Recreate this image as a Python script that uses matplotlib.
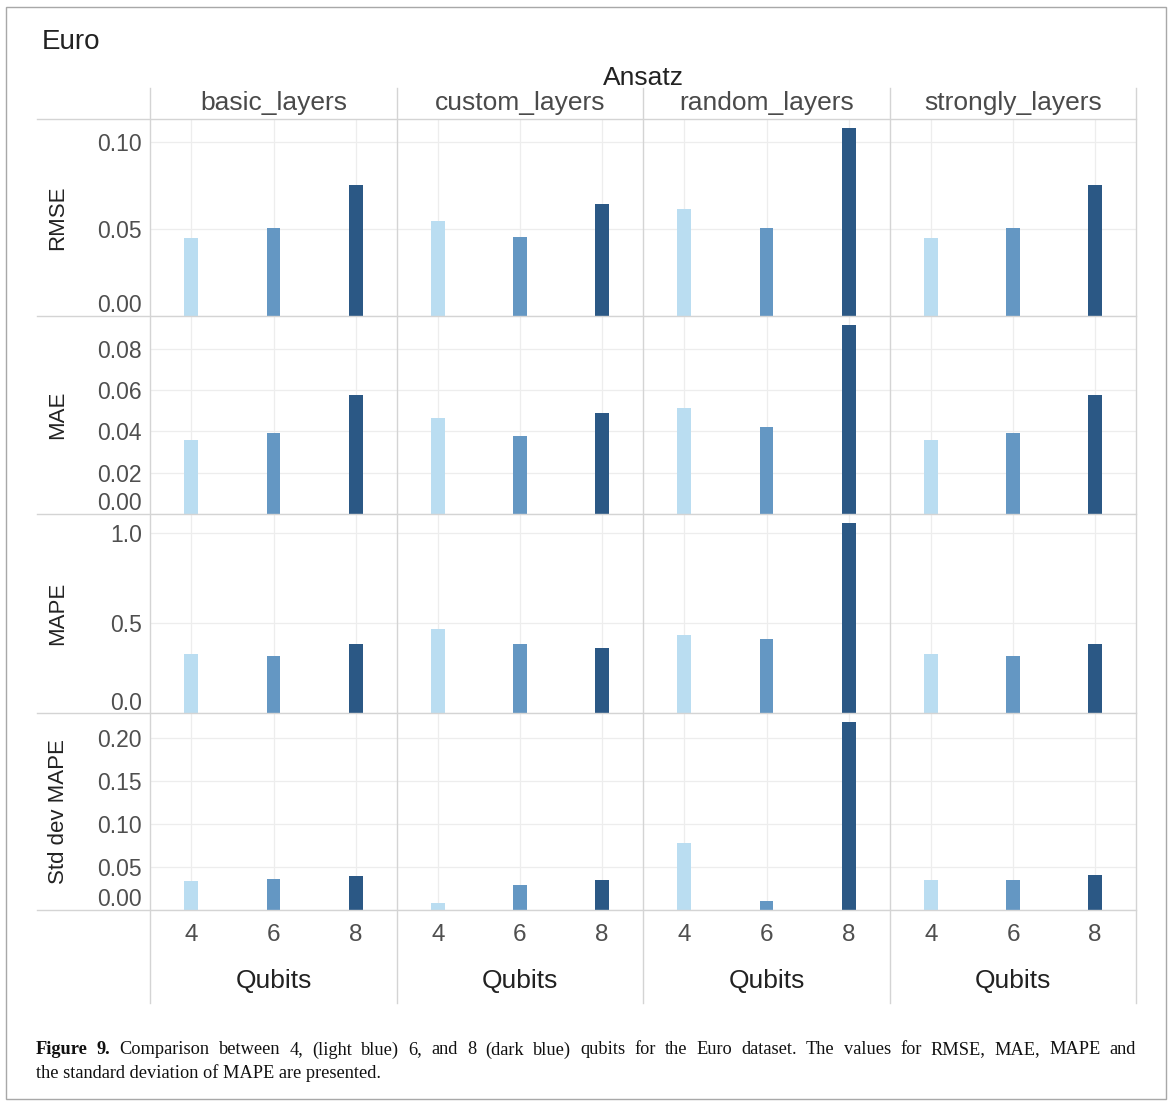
import matplotlib.pyplot as plt
from matplotlib.lines import Line2D
from matplotlib.patches import Rectangle
from matplotlib.transforms import offset_copy

plt.rcParams['font.family'] = ['Liberation Sans', 'DejaVu Sans']

# data: one list per ansatz inside each metric, bars for 4, 6, 8 qubits
qubits = [4, 6, 8]
ansatz = ['basic_layers', 'custom_layers', 'random_layers', 'strongly_layers']
metrics = ['RMSE', 'MAE', 'MAPE', 'Std dev MAPE']

rmse = [[0.0447, 0.0507, 0.0754],
        [0.0548, 0.0456, 0.0645],
        [0.0616, 0.0506, 0.1077],
        [0.0447, 0.0506, 0.0754]]
mae = [[0.0358, 0.0395, 0.0577],
       [0.0465, 0.0377, 0.0491],
       [0.0512, 0.0420, 0.0914],
       [0.0358, 0.0395, 0.0577]]
mape = [[0.329, 0.315, 0.383],
        [0.467, 0.383, 0.361],
        [0.435, 0.409, 1.052],
        [0.329, 0.315, 0.383]]
std_mape = [[0.0341, 0.0356, 0.0391],
            [0.0081, 0.0291, 0.0344],
            [0.0779, 0.0105, 0.218],
            [0.0352, 0.0352, 0.0402]]

yticks = [[0, 0.05, 0.10], [0, 0.02, 0.04, 0.06, 0.08], [0, 0.5, 1.0], [0, 0.05, 0.10, 0.15, 0.20]]
ylabels = [['0.00', '0.05', '0.10'],
           ['0.00', '0.02', '0.04', '0.06', '0.08'],
           ['0.0', '0.5', '1.0'],
           ['0.00', '0.05', '0.10', '0.15', '0.20']]

bar_colors = ['#BADDF1', '#6497C3', '#2B5885']

caption_1 = ('Comparison between 4, (light blue) 6, and 8 (dark blue) qubits for the Euro dataset. '
             'The values for RMSE, MAE, MAPE and')
caption_2 = 'the standard deviation of MAPE are presented.'

# layout in pixels
W, H = 1171, 1101
col_edges = [150, 397, 643, 890, 1136]
row_edges = [119, 316, 514, 713, 910]
line_col = '#D4D4D4'
dark = '#222222'
tick_col = '#4F4F4F'


def fx(px):
    return px / W


def fy(py):
    return 1 - py / H


fig = plt.figure(figsize=(W / 100, H / 100), dpi=100)

rows = [rmse, mae, mape, std_mape]
for r, data in enumerate(rows):
    top = max(max(v) for v in data) * 1.05
    for c in range(4):
        x0, x1 = col_edges[c], col_edges[c + 1]
        y0, y1 = row_edges[r], row_edges[r + 1]
        ax = fig.add_axes([fx(x0), fy(y1), (x1 - x0) / W, (y1 - y0) / H])
        ax.bar(qubits, data[c], width=0.34, color=bar_colors, zorder=2)
        ax.set_xlim(3, 9)
        ax.set_ylim(0, top)
        ax.set_xticks(qubits)
        ax.set_yticks(yticks[r])
        ax.grid(color='#EDEDED', lw=0.9, zorder=0)
        ax.set_axisbelow(True)
        for s in ax.spines.values():
            s.set_visible(False)
        ax.tick_params(length=0, labelsize=16.5, labelcolor=tick_col)
        ax.tick_params(axis='x', pad=10, labelsize=17.5)
        ax.tick_params(axis='y', pad=6)
        if c == 0:
            ax.set_yticklabels(ylabels[r])
            # the zero label sits a little above the axis line
            zl = ax.get_yticklabels()[0]
            zl.set_transform(offset_copy(zl.get_transform(), fig=fig, x=0, y=9, units='points'))
        else:
            ax.set_yticklabels([])
        if r == 3:
            ax.set_xticklabels([str(q) for q in qubits])
        else:
            ax.set_xticklabels([])

# facet separators
for x in col_edges:
    fig.add_artist(Line2D([fx(x), fx(x)], [fy(88), fy(1003)], color=line_col, lw=1))
for y in row_edges:
    fig.add_artist(Line2D([fx(37), fx(1136)], [fy(y), fy(y)], color=line_col, lw=1))

# outer frame
fig.add_artist(Rectangle((fx(6), fy(1099)), (1166 - 6) / W, (1099 - 7) / H,
                         fill=False, edgecolor='#A8A8A8', lw=1))

# titles and strip labels
fig.text(fx(42), fy(42), 'Euro', fontsize=20, color=dark, va='center', ha='left')
fig.text(fx(643), fy(78), 'Ansatz', fontsize=19, color=dark, va='center', ha='center')
for c, name in enumerate(ansatz):
    xc = (col_edges[c] + col_edges[c + 1]) / 2
    fig.text(fx(xc), fy(103), name, fontsize=19, color='#4A4A4A', va='center', ha='center')
    fig.text(fx(xc), fy(981), 'Qubits', fontsize=19, color=dark, va='center', ha='center')
for r, name in enumerate(metrics):
    yc = (row_edges[r] + row_edges[r + 1]) / 2
    fig.text(fx(58), fy(yc), name, fontsize=16, color=dark, va='center', ha='center', rotation=90)

# caption, first line justified between the margins
cap_kw = dict(fontsize=13.2, family='Liberation Serif', va='center', ha='left', color='#111111')
renderer = fig.canvas.get_renderer()
words = [('Figure', 'bold'), ('9.', 'bold')] + [(w, 'normal') for w in caption_1.split()]
arts = [fig.text(0, fy(1050), w, weight=wt, **cap_kw) for w, wt in words]
widths = [a.get_window_extent(renderer).width for a in arts]
gap = (1136 - 36 - sum(widths)) / (len(arts) - 1)
x = 36
for a, w in zip(arts, widths):
    a.set_x(fx(x))
    x += w + gap
fig.text(fx(36), fy(1073), caption_2, **cap_kw)

fig.savefig('out.png', dpi=100, facecolor='white')
